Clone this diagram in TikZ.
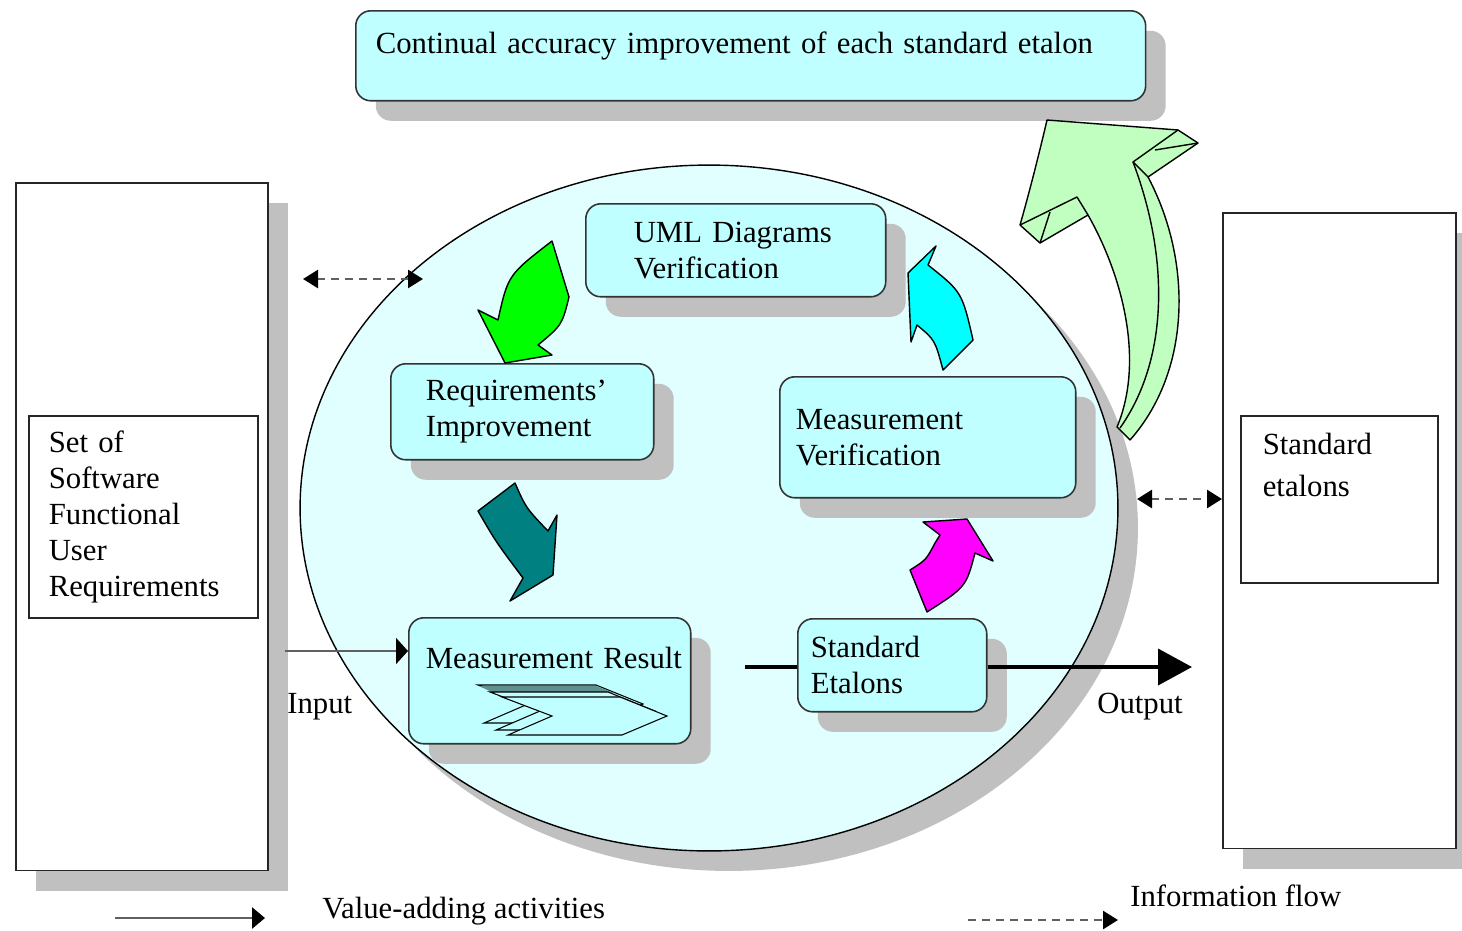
\documentclass[tikz,border=0pt]{standalone}
\usepackage{fontspec}
\setmainfont{Liberation Serif}
\usetikzlibrary{positioning,shapes.geometric,arrows.meta,shadows}
\definecolor{boxcyan}{HTML}{C0FFFF}
\definecolor{ovalcyan}{HTML}{E2FFFF}
\definecolor{shadowgray}{HTML}{C0C0C0}
\definecolor{leafgreen}{HTML}{00FF00}
\definecolor{tealarrow}{HTML}{008080}
\definecolor{cyanarrow}{HTML}{00FFFF}
\definecolor{pinkarrow}{HTML}{FF00FF}
\definecolor{palegreen}{HTML}{C0FFC0}
\definecolor{chevgray}{HTML}{5F8F8F}
\definecolor{linegray}{HTML}{606060}

\begin{document}
\begin{tikzpicture}[
  x=0.02cm, y=-0.02cm,
  font=\fontsize{17.5}{20.5}\selectfont,
  shadowed/.style={general shadow={fill=shadowgray, shadow xshift=0.4cm, shadow yshift=-0.4cm}},
  actbox/.style={draw=black!80, line width=0.9pt, rounded corners=0.3cm, fill=boxcyan, shadowed, align=left, anchor=north west, inner ysep=0pt},
  plainbox/.style={draw=black!85, line width=0.9pt, fill=white, align=left, anchor=north west, inner ysep=0pt},
  bendarrow/.style={draw=black, line width=0.8pt, line join=round},
  valarr/.style={-{Triangle[length=0.26cm, width=0.42cm, color=black]}, line width=1.6pt, color=linegray},
  infoarr/.style={line width=1.5pt, color=linegray, dash pattern=on 0.16cm off 0.12cm}
]
\useasboundingbox (0,0) rectangle (1462,930);
\clip (0,0) rectangle (1462,930);

% outer frames
\node[plainbox, shadowed, minimum width=5.04cm, minimum height=13.76cm, inner sep=0pt] (lrect) at (15,182) {};
\node[plainbox, shadowed, minimum width=4.66cm, minimum height=12.72cm, inner sep=0pt] (rrect) at (1222,212) {};
\node[plainbox, minimum width=4.58cm, minimum height=4.04cm, text width=3.78cm, inner xsep=0.4cm] (lreq) at (28,415)
  {Set of\\Software\\Functional\\User\\Requirements};
\node[plainbox, minimum width=3.94cm, minimum height=3.34cm, text width=3.06cm, inner xsep=0.44cm, text depth=2.2cm] (retl) at (1240,415)
  {Standard\\[3pt]etalons};

% cycle
\node[ellipse, draw=black, line width=0.8pt, fill=ovalcyan, shadowed, minimum width=16.36cm, minimum height=13.72cm, inner sep=0pt] (cycle) at (709,508) {};

\node[actbox, minimum width=15.8cm, minimum height=1.8cm, text width=15cm, inner xsep=0.4cm, text depth=0.54cm] (top) at (355,10)
  {Continual accuracy improvement of each standard etalon};
\node[actbox, minimum width=6cm, minimum height=1.86cm, text width=4.08cm, inner xsep=0.96cm] (uml) at (585,203)
  {\mbox{UML Diagrams}\\Verification};
\node[actbox, minimum width=5.26cm, minimum height=1.92cm, text width=3.86cm, inner xsep=0.7cm] (req) at (390,363)
  {Requirements'\\Improvement};
\node[actbox, minimum width=5.92cm, minimum height=2.42cm, text width=5.28cm, inner xsep=0.32cm] (mver) at (779,376)
  {Measurement\\Verification};
\node[actbox, minimum width=5.64cm, minimum height=2.52cm, text width=4.96cm, inner xsep=0.34cm, text depth=0.93cm] (mres) at (408,617)
  {\mbox{Measurement Result}};
\node[actbox, minimum width=3.78cm, minimum height=1.86cm, text width=3.26cm, inner xsep=0.26cm] (stdet) at (797,618)
  {Standard\\Etalons};

% stacked chevrons in the result box
\draw[line width=0.6pt, fill=boxcyan] (478,685) -- (596,685) -- (643,704) -- (598,723) -- (484,723) -- (528,704) -- cycle;
\fill[chevgray] (479,686) -- (596,686) -- (614,693) -- (494,693) -- cycle;
\foreach \dx/\dy in {12/7, 24/12}
  \draw[line width=0.6pt, fill=boxcyan, shift={(\dx,\dy)}] (478,685) -- (596,685) -- (643,704) -- (598,723) -- (484,723) -- (528,704) -- cycle;

% bent block arrows
\draw[bendarrow, fill=leafgreen] (552,241) -- (569,297) .. controls (562,325) .. (538,345) -- (552,355) -- (505,363)
  -- (478,310) -- (498,320) .. controls (508,275) .. (552,241) -- cycle;
\draw[bendarrow, fill=tealarrow] (515,483) .. controls (526,508) .. (548,531) -- (557,515) -- (553,575) -- (510,601)
  -- (523,578) .. controls (496,542) .. (478,511) -- cycle;
\draw[bendarrow, fill=cyanarrow] (936,246) -- (928,265) .. controls (962,292) .. (973,340) -- (943,370)
  .. controls (935,340) .. (917,325) -- (911,342) -- (908,273) -- cycle;
\draw[bendarrow, fill=pinkarrow] (923,522) -- (967,519) -- (993,561) -- (975,553) .. controls (966,587) .. (927,612)
  -- (910,570) .. controls (926,560) .. (935,543) -- (940,535) -- cycle;

% feedback arrow
\draw[bendarrow, fill=palegreen] (1047,120) -- (1178,130) -- (1198,143) -- (1148,177)
  .. controls (1192,260) and (1192,370) .. (1130,440) -- (1117,427)
  .. controls (1145,360) and (1122,275) .. (1088,215) -- (1040,243) -- (1020,225)
  .. controls (1030,190) and (1040,150) .. (1047,120) -- cycle;
\draw[bendarrow] (1148,177) -- (1133,162) -- (1178,130);
\draw[bendarrow] (1155,150) -- (1198,143);
\draw[bendarrow] (1133,162) .. controls (1170,260) and (1168,360) .. (1120,428);
\draw[bendarrow] (1088,215) -- (1077,197) -- (1020,225);
\draw[bendarrow] (1050,212) -- (1040,243);

% flows
\coordinate (inS) at (285,651);
\draw[valarr, line width=1pt, -{Triangle[length=0.24cm, width=0.52cm, color=black]}] (inS) -- (inS -| mres.west);
\node[anchor=west, inner sep=0pt] (inlbl) at (287,707) {Input};

\coordinate (outS) at (745,667);
\coordinate (outE) at (1192,667);
\draw[line width=2.2pt] (outS) -- (outS -| stdet.west);
\draw[line width=2.2pt, -{Triangle[length=0.68cm, width=0.72cm]}] (stdet.east |- outE) -- (outE);
\node[anchor=west, inner sep=0pt] (outlbl) at (1097,707) {Output};

\coordinate (dashL) at (303,279);
\coordinate (dashR) at (423,279);
\draw[infoarr, {Triangle[length=0.3cm, width=0.36cm, color=black]}-{Triangle[length=0.3cm, width=0.36cm, color=black]}] (dashL) -- (dashR);
\coordinate (dashM) at (1137,499);
\draw[infoarr, {Triangle[length=0.3cm, width=0.36cm, color=black]}-{Triangle[length=0.3cm, width=0.36cm, color=black]}] (dashM) -- (dashM -| rrect.west);

% legend
\coordinate (legA) at (115,918);
\coordinate (legB) at (265,918);
\draw[valarr] (legA) -- (legB);
\node[anchor=west, inner sep=0pt] (vallbl) at (322,911) {Value-adding activities};
\coordinate (legC) at (968,920);
\coordinate (legD) at (1118,920);
\draw[infoarr, -{Triangle[length=0.3cm, width=0.36cm, color=black]}] (legC) -- (legD);
\node[anchor=west, inner sep=0pt] (infolbl) at (1130,896) {Information flow};
\end{tikzpicture}
\end{document}
